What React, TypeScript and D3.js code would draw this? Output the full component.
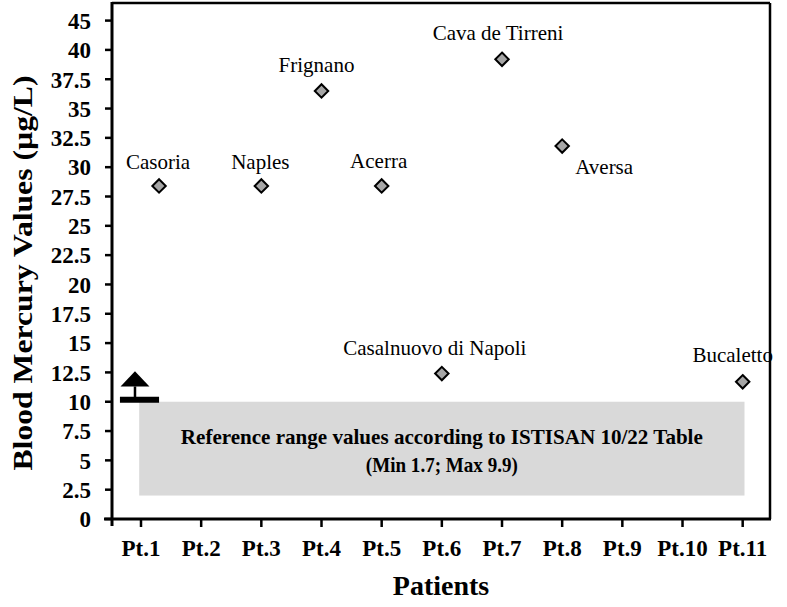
// Blood mercury scatter chart drawn with d3 scales in JSX
import * as d3 from "d3";

// patients on the x axis
const patients = ["Pt.1", "Pt.2", "Pt.3", "Pt.4", "Pt.5", "Pt.6", "Pt.7", "Pt.8", "Pt.9", "Pt.10", "Pt.11"];

// y tick values and the labels printed next to them (the top one reads 45 in the source)
const yTickValues = [0, 2.5, 5, 7.5, 10, 12.5, 15, 17.5, 20, 22.5, 25, 27.5, 30, 32.5, 35, 37.5, 40, 42.5];
const yTickLabels = ["0", "2.5", "5", "7.5", "10", "12.5", "15", "17.5", "20", "22.5", "25", "27.5", "30", "32.5", "35", "37.5", "40", "45"];

// observed points: patient position, mercury value, town
const towns = ["Casoria", "Naples", "Frignano", "Acerra", "Casalnuovo di Napoli", "Cava de Tirreni", "Aversa", "Bucaletto"];
const pointX = [1.3, 3, 4, 5, 6, 7, 8, 11];
const pointY = [28.4, 28.4, 36.5, 28.4, 12.4, 39.2, 31.8, 11.7];

// reference range band
const refMin = 2;
const refMax = 10;
const refLines = ["Reference range values according to ISTISAN 10/22 Table", "(Min 1.7; Max 9.9)"];

// label offsets (px) relative to each point
const labelDx = [-1, -1, -5, -3, -7, -4, 42, -10];
const labelDy = [-17, -17, -19, -18, -19, -19, 28, -20];

const W = 787;
const H = 607;
const margin = { top: 3, right: 17, bottom: 88, left: 112 };
const font = "Liberation Serif, Times New Roman, DejaVu Serif, serif";

export default function App() {
  // scales
  const x = d3.scaleLinear().domain([0.518, 11.454]).range([margin.left, W - margin.right]);
  const y = d3.scaleLinear().domain([0, 44]).range([H - margin.bottom, margin.top]);

  const x0 = margin.left;
  const x1 = W - margin.right;
  const y0 = H - margin.bottom;
  const y1 = margin.top;

  // diamond marker
  const diamond = d3.symbol().type(d3.symbolDiamond2).size(115)();

  const bandCenter = (x(0.97) + x(11.03)) / 2;

  return (
    <svg width={W} height={H} style={{ position: "absolute", left: 0, top: 0, background: "#fff", fontFamily: font }}>
      {/* reference range band */}
      <rect x={x(0.97)} y={y(refMax)} width={x(11.03) - x(0.97)} height={y(refMin) - y(refMax)} fill="#d9d9d9" />
      <text x={bandCenter} y={y(refMax) + 42} textAnchor="middle" fontSize={21} fontWeight="bold" textLength={522} lengthAdjust="spacingAndGlyphs">{refLines[0]}</text>
      <text x={bandCenter} y={y(refMax) + 70} textAnchor="middle" fontSize={21} fontWeight="bold" textLength={152} lengthAdjust="spacingAndGlyphs">{refLines[1]}</text>

      {/* box top and right */}
      <line x1={x0} x2={x1} y1={y1} y2={y1} stroke="#000" strokeWidth={2.5} />
      <line x1={x1} x2={x1} y1={y1} y2={y0} stroke="#000" strokeWidth={2.5} />

      {/* axes */}
      <line x1={x0} x2={x0} y1={y1 - 1} y2={y0 + 7} stroke="#000" strokeWidth={3} />
      <line x1={x0 - 8} x2={x1 + 1} y1={y0} y2={y0} stroke="#000" strokeWidth={3} />

      {/* y ticks */}
      {yTickValues.map((v, i) => (
        <g key={"yt" + i} transform={`translate(0,${y(v)})`}>
          <line x1={x0 - 7} x2={x0} stroke="#000" strokeWidth={2.5} />
          <text x={x0 - 21} dy="0.36em" textAnchor="end" fontSize={23} fontWeight="bold">{yTickLabels[i]}</text>
        </g>
      ))}

      {/* x ticks */}
      {patients.map((p, i) => (
        <g key={p} transform={`translate(${x(i + 1)},0)`}>
          <line y1={y0} y2={y0 + 8} stroke="#000" strokeWidth={2.5} />
          <text y={y0 + 37} textAnchor="middle" fontSize={23} fontWeight="bold">{p}</text>
        </g>
      ))}

      {/* threshold marker at 10 */}
      <line x1={x(0.65)} x2={x(1.3)} y1={y(10) - 2} y2={y(10) - 2} stroke="#000" strokeWidth={6} />
      <line x1={x(0.9)} x2={x(0.9)} y1={y(10) - 2} y2={y(11.3)} stroke="#000" strokeWidth={2.5} />
      <path d={`M${x(0.66)},${y(11.3)} L${x(1.14)},${y(11.3)} L${x(0.9)},${y(12.6)} Z`} fill="#000" />

      {/* points and town labels */}
      {towns.map((t, i) => (
        <g key={t}>
          <path d={diamond} transform={`translate(${x(pointX[i])},${y(pointY[i])})`} fill="#a6a6a6" stroke="#000" strokeWidth={2} />
          <text x={x(pointX[i]) + labelDx[i]} y={y(pointY[i]) + labelDy[i]} textAnchor="middle" fontSize={21}>{t}</text>
        </g>
      ))}

      {/* axis titles */}
      <text x={(x0 + x1) / 2} y={H - 12} textAnchor="middle" fontSize={28} fontWeight="bold">Patients</text>
      <text transform={`translate(32,${(y0 + y1) / 2 + 12}) rotate(-90)`} textAnchor="middle" fontSize={27} fontWeight="bold" textLength={395} lengthAdjust="spacingAndGlyphs">Blood Mercury Values (µg/L)</text>
    </svg>
  );
}
